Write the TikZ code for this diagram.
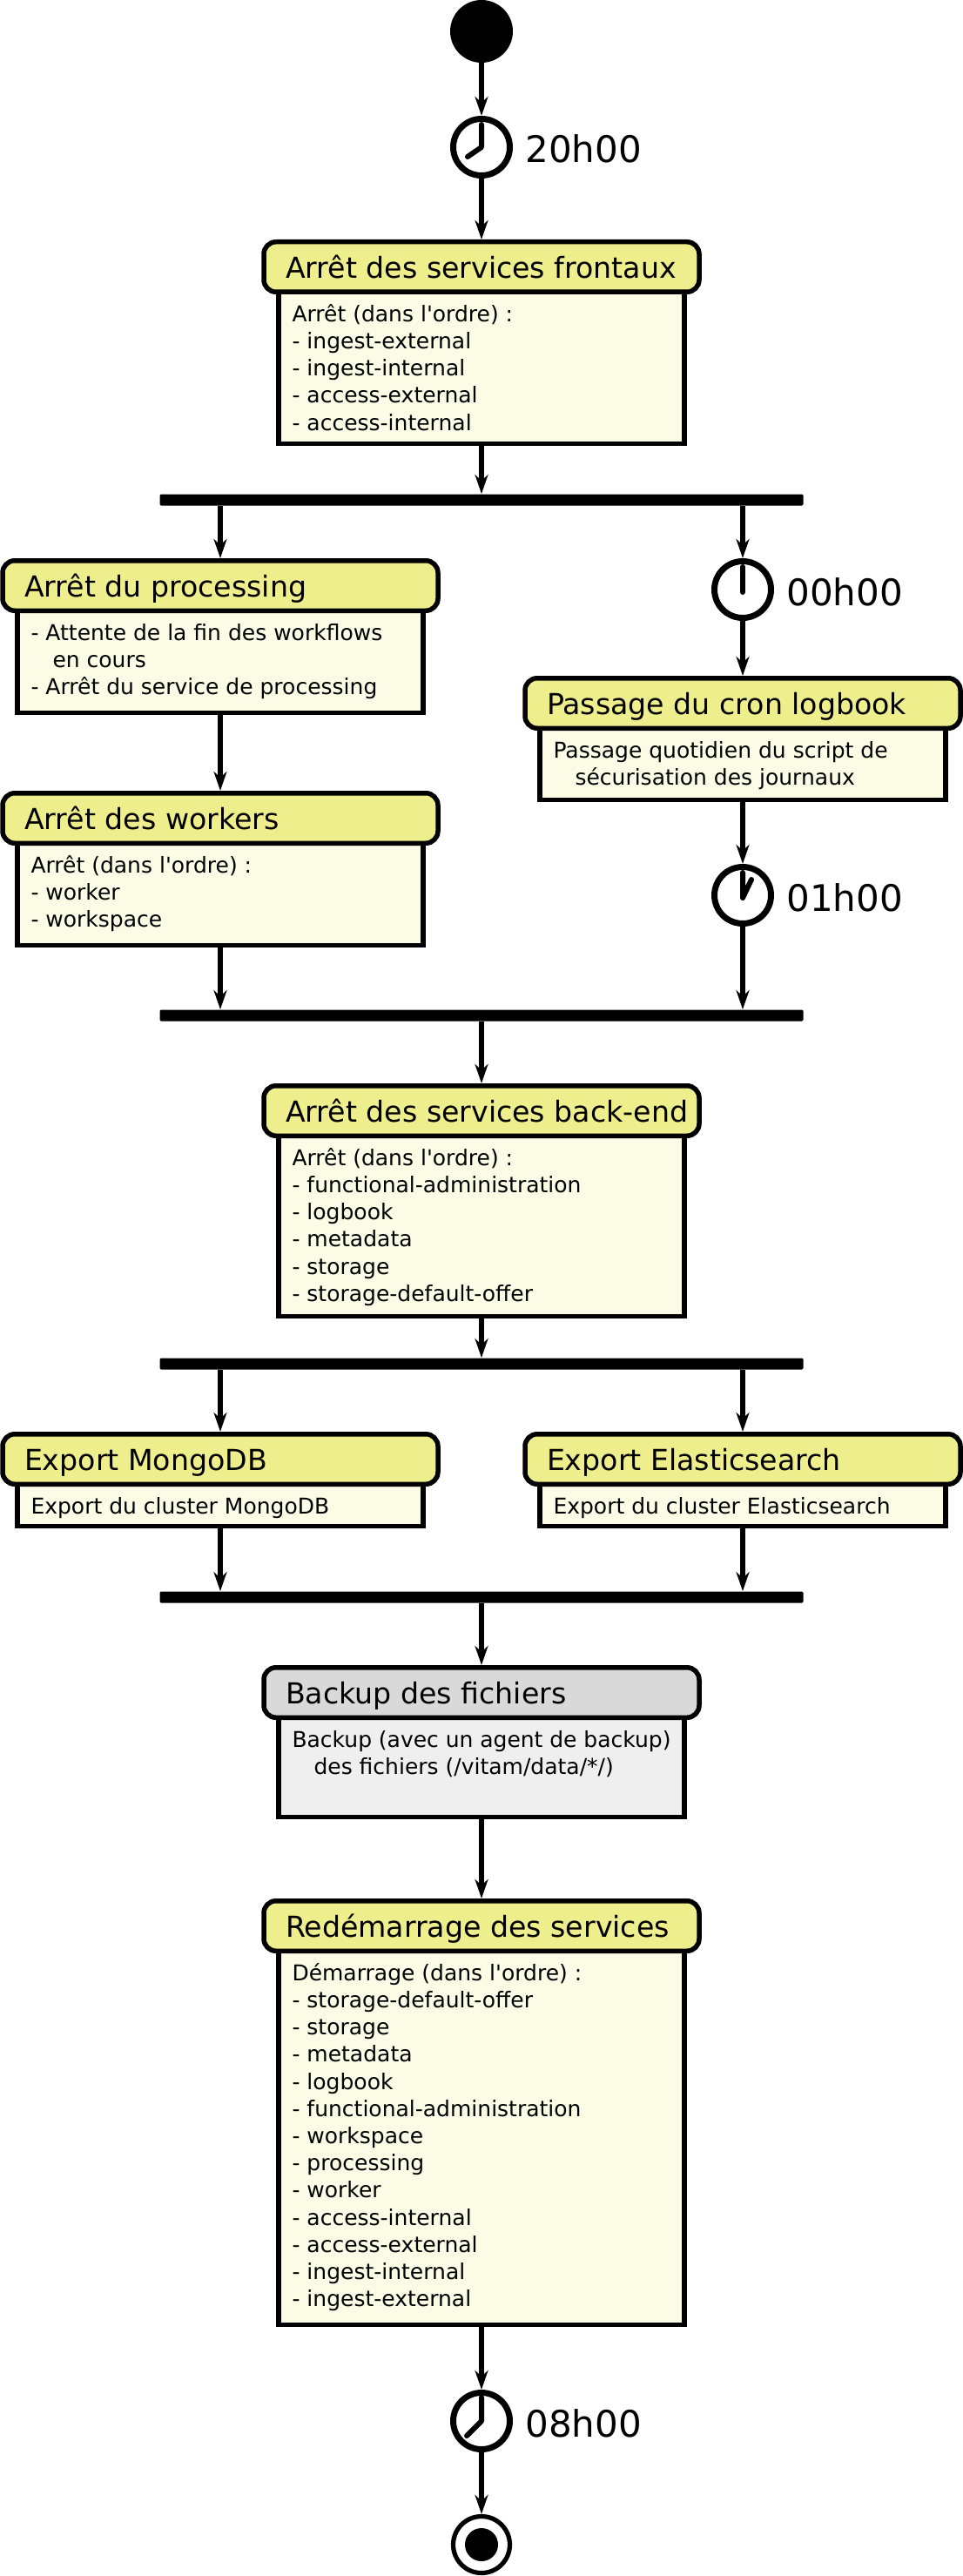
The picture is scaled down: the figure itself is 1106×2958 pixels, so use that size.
\documentclass[tikz,border=0pt]{standalone}
\usepackage{fontspec}
\newfontfamily\dv{DejaVu Sans}
\usetikzlibrary{arrows.meta}
\definecolor{titley}{HTML}{EEEE8C}
\definecolor{bodyy}{HTML}{FCFCE6}
\definecolor{titleg}{HTML}{D9D9D9}
\definecolor{bodyg}{HTML}{EFEFEF}
\tikzset{
  titlebox/.style={draw,line width=2.75pt,outer sep=1.375pt,rounded corners=7pt,anchor=north,
    minimum width=250pt,minimum height=28.75pt,inner ysep=0pt,inner xsep=12.5pt,
    text height=14.5pt,text depth=1.5pt,font=\dv\fontsize{16.6}{19}\selectfont},
  bodybox/.style={draw,line width=2.75pt,outer sep=1.375pt,anchor=north,inner sep=0pt,inner xsep=7.75pt,font=\dv},
  flow/.style={line width=3.2pt,-{Stealth[length=11pt,width=7.5pt,inset=3.5pt]}},
  clock/.style={circle,draw,fill=white,line width=3.5pt,minimum size=32.5pt,inner sep=0pt,outer sep=1.75pt},
  hand/.style={line width=3pt,line cap=round,line join=round},
  timelbl/.style={anchor=base west,inner sep=0pt,font=\dv\fontsize{21}{24}\selectfont},
  bar/.style={fill=black,minimum width=369.5pt,minimum height=6.5pt,inner sep=0pt,rounded corners=0.7pt},
  startdot/.style={circle,fill=black,minimum size=36pt,inner sep=0pt},
  endring/.style={circle,draw,fill=white,line width=2.6pt,minimum size=32.5pt,inner sep=0pt,outer sep=1.3pt},
  enddot/.style={circle,fill=black,minimum size=19pt,inner sep=0pt},
}
% #1 colour suffix, #2 name, #3 cx, #4 outer top, #5 outer bottom, #6 title, #7 body
\newcommand{\ublock}[7]{%
  \pgfmathsetlengthmacro{\bh}{(#5-#4-63)/2}%
  \node[bodybox,fill=body#1] (#2B) at ({#3},{#4+57.5}) {\parbox[c][\bh][t]{217.5pt}{\raggedright\fontsize{12.5}{15.6}\selectfont\rule{0pt}{17pt}#7}};
  \node[titlebox,fill=title#1] (#2T) at ({#3},{#4}) {\makebox[225pt][l]{#6}};
}
\begin{document}
\begin{tikzpicture}[x=0.5pt,y=-0.5pt]
\useasboundingbox (0,0) rectangle (1106,2958);
% start and clock
\node[startdot] (start) at (553,36) {};
\node[clock] (c20) at (553,169) {};
\draw[hand] (c20.center) ++(0,-26) -- ++(0,26) -- ++(-16,11);
\node[timelbl] (t20) at (603,187) {20h00};
% blocks
\ublock{y}{front}{553}{275}{512}{Arrêt des services frontaux}{Arrêt (dans l'ordre) :\\- ingest-external\\- ingest-internal\\- access-external\\- access-internal}
\node[bar] (b1) at (553,574) {};
\ublock{y}{proc}{253}{641}{821}{Arrêt du processing}{- Attente de la fin des workflows\\\hspace*{12.5pt}en cours\\- Arrêt du service de processing}
\ublock{y}{work}{253}{908}{1088}{Arrêt des workers}{Arrêt (dans l'ordre) :\\- worker\\- workspace}
\node[clock] (c00) at (853,677) {};
\draw[hand] (c00.center) ++(0,-26) -- ++(0,29);
\node[timelbl] (t00) at (903,695) {00h00};
\ublock{y}{cron}{853}{776}{921}{Passage du cron logbook}{Passage quotidien du script de\\\hspace*{12.5pt}sécurisation des journaux}
\node[clock] (c01) at (853,1028) {};
\draw[hand] (c01.center) ++(0,-26) -- ++(0,29) -- ++(10,-21);
\node[timelbl] (t01) at (903,1046) {01h00};
\node[bar] (b2) at (553,1166) {};
\ublock{y}{back}{553}{1244}{1514}{Arrêt des services back-end}{Arrêt (dans l'ordre) :\\- functional-administration\\- logbook\\- metadata\\- storage\\- storage-default-offer}
\node[bar] (b3) at (553,1566) {};
\ublock{y}{mongo}{253}{1644}{1755}{Export MongoDB}{Export du cluster MongoDB}
\ublock{y}{elastic}{853}{1644}{1755}{Export Elasticsearch}{Export du cluster Elasticsearch}
\node[bar] (b4) at (553,1834) {};
\ublock{g}{backup}{553}{1912}{2089}{Backup des fichiers}{Backup (avec un agent de backup)\\\hspace*{12.5pt}des fichiers (/vitam/data/*/)}
\ublock{y}{restart}{553}{2180}{2672}{Redémarrage des services}{Démarrage (dans l'ordre) :\\- storage-default-offer\\- storage\\- metadata\\- logbook\\- functional-administration\\- workspace\\- processing\\- worker\\- access-internal\\- access-external\\- ingest-internal\\- ingest-external}
\node[clock] (c08) at (553,2780) {};
\draw[hand] (c08.center) ++(0,-27) -- ++(0,27) -- ++(-17,17);
\node[timelbl] (t08) at (603,2798) {08h00};
\node[endring] (endr) at (553,2922) {};
\node[enddot] (endd) at (553,2922) {};
% connectors
\draw[flow] (start.south) -- (c20.north);
\draw[flow] (c20.south) -- (frontT.north);
\draw[flow] (frontB.south) -- (b1.north);
\draw[flow] (b1.south -| procT.north) -- (procT.north);
\draw[flow] (b1.south -| c00.north) -- (c00.north);
\draw[flow] (procB.south) -- (workT.north);
\draw[flow] (c00.south) -- (cronT.north);
\draw[flow] (cronB.south) -- (c01.north);
\draw[flow] (workB.south) -- (workB.south |- b2.north);
\draw[flow] (c01.south) -- (c01.south |- b2.north);
\draw[flow] (b2.south) -- (backT.north);
\draw[flow] (backB.south) -- (b3.north);
\draw[flow] (b3.south -| mongoT.north) -- (mongoT.north);
\draw[flow] (b3.south -| elasticT.north) -- (elasticT.north);
\draw[flow] (mongoB.south) -- (mongoB.south |- b4.north);
\draw[flow] (elasticB.south) -- (elasticB.south |- b4.north);
\draw[flow] (b4.south) -- (backupT.north);
\draw[flow] (backupB.south) -- (restartT.north);
\draw[flow] (restartB.south) -- (c08.north);
\draw[flow] (c08.south) -- (endr.north);
\end{tikzpicture}
\end{document}
